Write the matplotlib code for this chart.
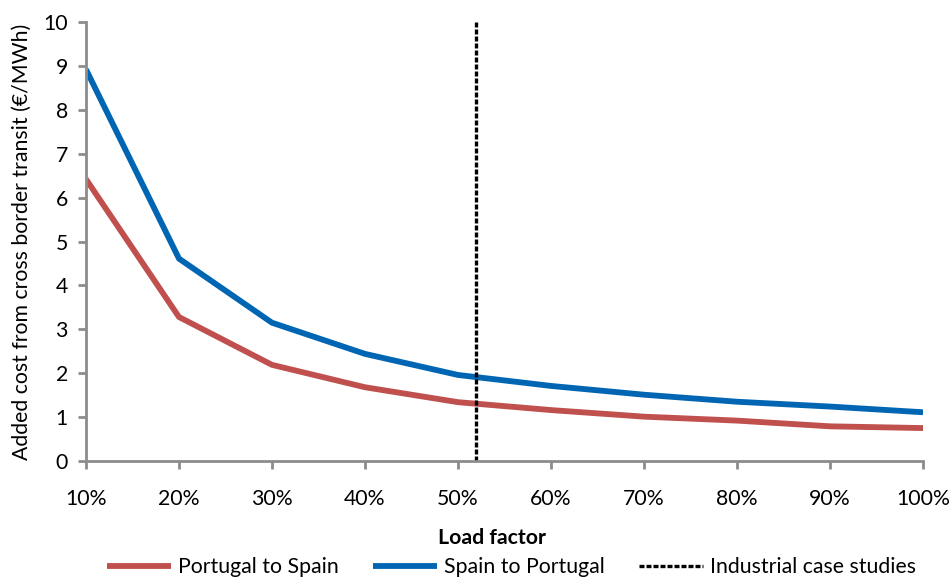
import matplotlib.pyplot as plt
from matplotlib.ticker import FuncFormatter

# Data
load_factor = [10, 20, 30, 40, 50, 60, 70, 80, 90, 100]
portugal_to_spain = [6.42, 3.28, 2.19, 1.68, 1.34, 1.16, 1.01, 0.92, 0.79, 0.75]
spain_to_portugal = [8.92, 4.61, 3.15, 2.44, 1.96, 1.71, 1.51, 1.35, 1.24, 1.11]
case_study_lf = 51.9
y_ticks = list(range(0, 11))
x_ticks = load_factor

plt.rcParams['font.family'] = ['Lato', 'DejaVu Sans']
fs = 15.3

fig = plt.figure(figsize=(9.51, 5.79), dpi=100)
ax = fig.add_axes([0.0904, 0.2038, 0.8802, 0.7582])

ax.plot(load_factor, portugal_to_spain, color='#C0504D', lw=4.2,
        label='Portugal to Spain', solid_capstyle='butt')
ax.plot(load_factor, spain_to_portugal, color='#0066B3', lw=4.2,
        label='Spain to Portugal', solid_capstyle='butt')
ax.axvline(case_study_lf, color='black', lw=2.4, ls=(0, (1.5, 0.6)),
           label='Industrial case studies')

ax.set_xlim(10, 100)
ax.set_ylim(0, 10)
ax.set_xticks(x_ticks)
ax.set_yticks(y_ticks)
ax.xaxis.set_major_formatter(FuncFormatter(lambda v, p: f'{v:.0f}%'))

for side in ['top', 'right']:
    ax.spines[side].set_visible(False)
for side in ['left', 'bottom']:
    ax.spines[side].set_color('#8C8C8C')
    ax.spines[side].set_linewidth(2)
ax.tick_params(colors='#8C8C8C', width=2, length=6, labelcolor='black',
               labelsize=fs)
ax.tick_params(axis='x', pad=14)
ax.tick_params(axis='y', pad=7)

ax.set_ylabel('Added cost from cross border transit (€/MWh)', fontsize=fs,
              labelpad=8)
fig.text(0.517, 1 - 538 / 579, 'Load factor', fontsize=fs, fontweight='bold',
         ha='center', va='center')

fig.legend(loc='center', bbox_to_anchor=(0.538, 1 - 567 / 579), ncol=3,
           frameon=False, fontsize=fs, handlelength=3.0, handletextpad=0.35,
           columnspacing=1.6, borderpad=0)

fig.savefig('out.png', dpi=100)
